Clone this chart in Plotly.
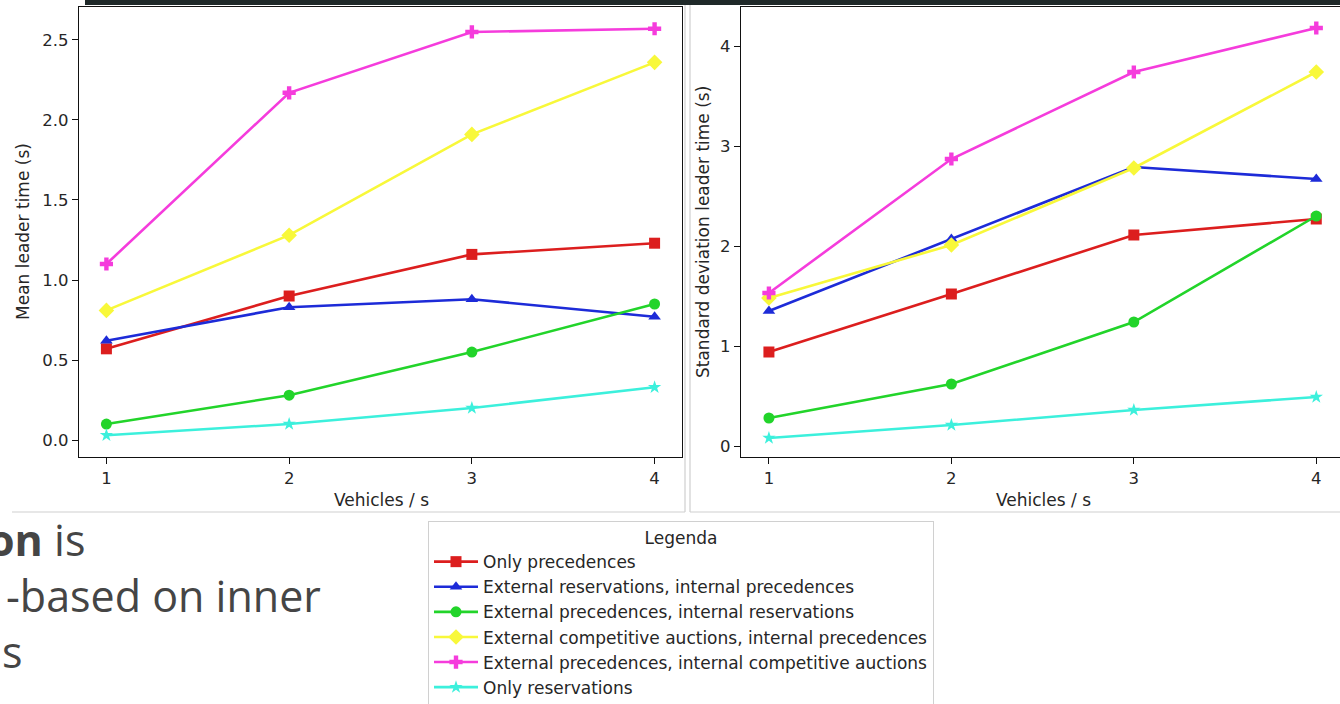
import plotly.graph_objects as go

W, H = 1340, 704

# ---- data -------------------------------------------------------------
vehicles = [1, 2, 3, 4]

series_names = [
    "Only precedences",
    "External reservations, internal precedences",
    "External precedences, internal reservations",
    "External competitive auctions, internal precedences",
    "External precedences, internal competitive auctions",
    "Only reservations",
]

mean_only_prec = [0.57, 0.90, 1.16, 1.23]
mean_ext_res_int_prec = [0.62, 0.83, 0.88, 0.77]
mean_ext_prec_int_res = [0.10, 0.28, 0.55, 0.85]
mean_ext_auct_int_prec = [0.81, 1.28, 1.91, 2.36]
mean_ext_prec_int_auct = [1.10, 2.17, 2.55, 2.57]
mean_only_res = [0.03, 0.10, 0.20, 0.33]

std_only_prec = [0.94, 1.52, 2.11, 2.27]
std_ext_res_int_prec = [1.35, 2.07, 2.79, 2.67]
std_ext_prec_int_res = [0.28, 0.62, 1.24, 2.30]
std_ext_auct_int_prec = [1.48, 2.01, 2.78, 3.74]
std_ext_prec_int_auct = [1.53, 2.87, 3.74, 4.18]
std_only_res = [0.08, 0.21, 0.36, 0.49]

mean_values = [mean_only_prec, mean_ext_res_int_prec, mean_ext_prec_int_res,
               mean_ext_auct_int_prec, mean_ext_prec_int_auct, mean_only_res]
std_values = [std_only_prec, std_ext_res_int_prec, std_ext_prec_int_res,
              std_ext_auct_int_prec, std_ext_prec_int_auct, std_only_res]

left_yticks = [0.0, 0.5, 1.0, 1.5, 2.0, 2.5]
right_yticks = [0, 1, 2, 3, 4]

# ---- styles -----------------------------------------------------------
colors = ["#dc1e1e", "#1d2bd8", "#22d42a", "#f8f83a", "#f53cdc", "#3cf0dc"]
symbols = ["square", "triangle-up", "circle", "diamond", "cross", "star"]
msizes = [11, 11, 11, 12, 11, 10]

FONT = "DejaVu Sans"
TXT = "#262626"
FS = 17


def px(x):
    return x / W


def py(y):
    return 1 - y / H


fig = go.Figure()

for i, name in enumerate(series_names):
    style = dict(
        mode="lines+markers",
        line=dict(color=colors[i], width=2.6),
        marker=dict(symbol=symbols[i], size=msizes[i], color=colors[i],
                    line=dict(width=0)),
        legendgroup="g%d" % i,
    )
    fig.add_trace(go.Scatter(x=vehicles, y=mean_values[i], name=name,
                             xaxis="x", yaxis="y", showlegend=True, **style))
    fig.add_trace(go.Scatter(x=vehicles, y=std_values[i], name=name,
                             xaxis="x2", yaxis="y2", showlegend=False, **style))

axis_common = dict(
    showline=True, linecolor="#111111", linewidth=1.3,
    ticks="outside", ticklen=6, tickwidth=1.2, tickcolor="#111111",
    showgrid=False, zeroline=False,
    tickfont=dict(family=FONT, size=FS - 0.5, color=TXT),
)

fig.update_layout(
    width=W, height=H,
    margin=dict(l=0, r=0, t=0, b=0, autoexpand=False),
    paper_bgcolor="white", plot_bgcolor="white",
    xaxis=dict(domain=[px(79), px(682)], range=[0.85, 4.15], anchor="y",
               tickvals=vehicles, mirror=True, **axis_common),
    yaxis=dict(domain=[py(457), py(7)], range=[-0.106, 2.706], anchor="x",
               tickvals=left_yticks, tickformat=".1f", mirror=True, **axis_common),
    xaxis2=dict(domain=[px(741), 1.0], range=[0.847, 4.13], anchor="y2",
                tickvals=vehicles, mirror=True, **axis_common),
    yaxis2=dict(domain=[py(457), py(7)], range=[-0.11, 4.39], anchor="x2",
                tickvals=right_yticks, **axis_common),
    legend=dict(
        x=px(428), y=py(521), xanchor="left", yanchor="top",
        bgcolor="white", bordercolor="#d0d0d0", borderwidth=1,
        font=dict(family=FONT, size=FS, color=TXT),
        title=dict(text="Legenda", side="top center",
                   font=dict(family=FONT, size=FS, color=TXT)),
        tracegroupgap=0, itemwidth=44,
    ),
    showlegend=True,
)

# axis titles
annots = [
    dict(text="Mean leader time (s)", x=px(23), y=py(232), textangle=-90),
    dict(text="Vehicles / s", x=px(381), y=py(500)),
    dict(text="Standard deviation leader time (s)", x=px(703), y=py(232), textangle=-90),
    dict(text="Vehicles / s", x=px(1043), y=py(500)),
]
for a in annots:
    fig.add_annotation(xref="paper", yref="paper", showarrow=False,
                       xanchor="center", yanchor="middle",
                       font=dict(family=FONT, size=FS, color=TXT), **a)

# slide body text beside the figure
SLIDE_FONT = dict(family="Open Sans", size=43, color="#454545")
for text, right, mid in [("<b>on</b> is", 87, 539),
                         ("-based on inner", 323, 595),
                         ("s", 25, 651)]:
    fig.add_annotation(xref="paper", yref="paper", showarrow=False,
                       xanchor="right", yanchor="middle",
                       x=px(right), y=py(mid), text=text, font=SLIDE_FONT)

# figure frames and slide header bar
frame = dict(type="line", xref="paper", yref="paper",
             line=dict(color="#cfcfcf", width=1.2))
fig.add_shape(x0=px(685), x1=px(685), y0=py(4), y1=py(512), **frame)
fig.add_shape(x0=px(12), x1=px(685), y0=py(512), y1=py(512), **frame)
fig.add_shape(x0=px(690), x1=px(690), y0=py(4), y1=py(512), **frame)
fig.add_shape(x0=px(690), x1=1, y0=py(512), y1=py(512), **frame)
fig.add_shape(type="rect", xref="paper", yref="paper",
              x0=px(85), x1=1, y0=py(5), y1=1,
              fillcolor="#1f2929", line=dict(width=0), layer="above")

fig.write_html("out.html")
